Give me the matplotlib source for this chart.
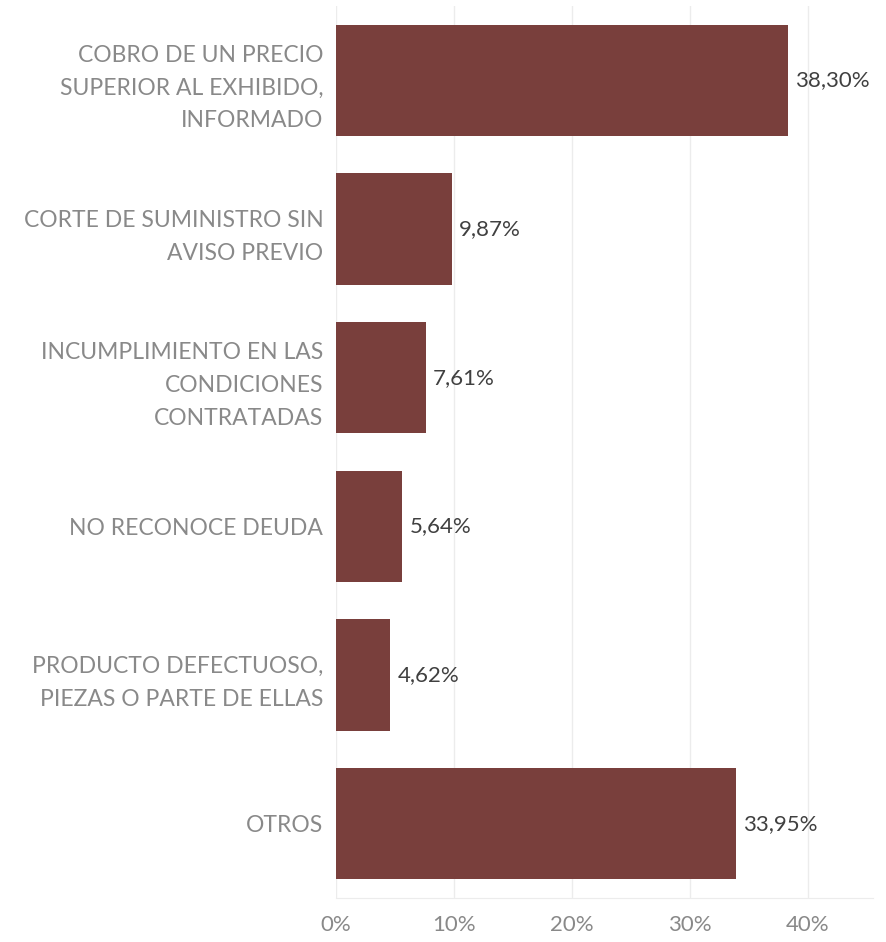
import matplotlib.pyplot as plt
import numpy as np

categorias = [
    'COBRO DE UN PRECIO\nSUPERIOR AL EXHIBIDO,\nINFORMADO',
    'CORTE DE SUMINISTRO SIN\nAVISO PREVIO',
    'INCUMPLIMIENTO EN LAS\nCONDICIONES\nCONTRATADAS',
    'NO RECONOCE DEUDA',
    'PRODUCTO DEFECTUOSO,\nPIEZAS O PARTE DE ELLAS',
    'OTROS',
]
porcentajes = [38.30, 9.87, 7.61, 5.64, 4.62, 33.95]
ticks = [0, 10, 20, 30, 40]

plt.rcParams['font.family'] = ['Lato', 'DejaVu Sans']

fig = plt.figure(figsize=(8.86, 9.42), dpi=100)
ax = fig.add_axes([0.379, 0.0467, 0.606, 0.9469])

y = np.arange(len(categorias))
ax.barh(y, porcentajes, height=0.75, color='#793f3c', zorder=3)
ax.set_ylim(len(categorias) - 0.5, -0.5)
ax.set_xlim(0, 45.5)

for yi, v in zip(y, porcentajes):
    ax.text(v + 0.6, yi, f'{v:.2f}%'.replace('.', ','), va='center', ha='left',
            fontsize=16, color='#404040')

ax.set_yticks(y)
ax.set_yticklabels(categorias, fontsize=16.5, color='#898989', linespacing=1.68)
ax.set_xticks(ticks)
ax.set_xticklabels([f'{t}%' for t in ticks], fontsize=16, color='#898989')
ax.tick_params(axis='x', length=0, pad=12)
ax.tick_params(axis='y', length=0, pad=9)

ax.grid(axis='x', color='#ececec', linewidth=1, zorder=0)
for s in ['top', 'right', 'left']:
    ax.spines[s].set_visible(False)
ax.spines['bottom'].set_color('#ececec')

fig.savefig('out.png', dpi=100)
